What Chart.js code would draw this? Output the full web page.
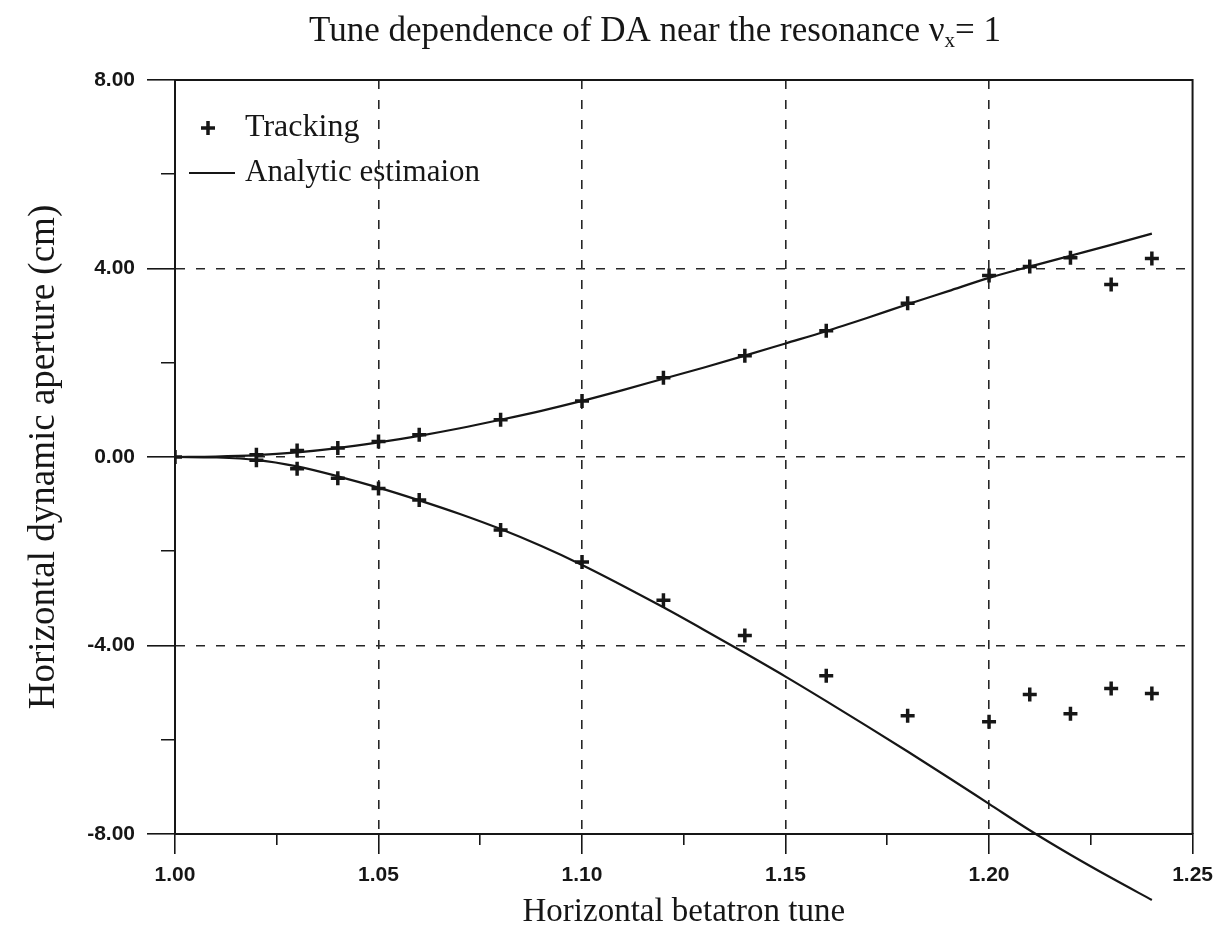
<!DOCTYPE html>
<html>
<head>
<meta charset="utf-8">
<title>Tune dependence of DA near the resonance</title>
<script src="https://cdn.jsdelivr.net/npm/chart.js@4.4.1/dist/chart.umd.min.js"></script>
<style>
  html, body { margin: 0; padding: 0; background: #ffffff; }
  #wrap { width: 1222px; height: 937px; }
</style>
</head>
<body>
<div id="wrap"><canvas id="daChart" width="1222" height="937"></canvas></div>
<script>
// ---- values ----
const trackTune  = [1.00, 1.02, 1.03, 1.04, 1.05, 1.06, 1.08, 1.10, 1.12, 1.14, 1.16, 1.18, 1.20, 1.21, 1.22, 1.23, 1.24];
const trackUpper = [0.00, 0.05, 0.14, 0.19, 0.33, 0.47, 0.79, 1.19, 1.68, 2.15, 2.68, 3.26, 3.85, 4.04, 4.23, 3.66, 4.21];
const trackLower = [0.00, -0.07, -0.25, -0.45, -0.67, -0.91, -1.55, -2.23, -3.04, -3.79, -4.64, -5.49, -5.62, -5.04, -5.45, -4.91, -5.02];

const analyticTune  = [1.00, 1.01, 1.02, 1.03, 1.04, 1.05, 1.06, 1.07, 1.08, 1.09, 1.10, 1.11, 1.12,
                       1.13, 1.14, 1.15, 1.16, 1.17, 1.18, 1.19, 1.20, 1.21, 1.22, 1.23, 1.24];
const analyticUpper = [0.00, 0.01, 0.04, 0.10, 0.19, 0.31, 0.45, 0.61, 0.79, 0.98, 1.19, 1.42, 1.66,
                       1.90, 2.15, 2.41, 2.67, 2.95, 3.24, 3.52, 3.80, 4.04, 4.27, 4.50, 4.74];
const analyticLower = [0.00, -0.01, -0.06, -0.20, -0.41, -0.65, -0.92, -1.21, -1.53, -1.89, -2.29, -2.73, -3.19,
                       -3.67, -4.16, -4.66, -5.18, -5.71, -6.25, -6.80, -7.36, -7.92, -8.44, -8.93, -9.40];

const xTickLabels = ['1.00', '1.05', '1.10', '1.15', '1.20', '1.25'];
const yTickLabels = ['-8.00', '-4.00', '0.00', '4.00', '8.00'];

const INK = '#161616';
const SERIF = '"Liberation Serif", "Times New Roman", serif';
const SANS = '"Liberation Sans", Arial, sans-serif';

function pairs(xs, ys) {
    return xs.map((x, i) => ({ x: x, y: ys[i] }));
}

// inner major values get a dashed grid line, the frame edges do not
function isMajorX(v) {
    const s = v.toFixed(2);
    return xTickLabels.includes(s) && Math.abs(v - parseFloat(s)) < 1e-6;
}
function isInnerX(v) {
    const s = v.toFixed(2);
    return isMajorX(v) && s !== '1.00' && s !== '1.25';
}
function isInnerY(v) {
    return v === -4 || v === 0 || v === 4;
}

/**
 * Frame, title and legend, drawn on top of the chart
 */
const decorPlugin = {
    id: 'decor',
    afterDraw(chart) {
        const ctx = chart.ctx;
        const a = chart.chartArea;
        ctx.save();

        // top and right side of the box
        ctx.strokeStyle = INK;
        ctx.lineWidth = 2;
        ctx.beginPath();
        ctx.moveTo(a.left, a.top);
        ctx.lineTo(a.right, a.top);
        ctx.lineTo(a.right, a.bottom);
        ctx.stroke();

        // title with the subscript x
        ctx.fillStyle = INK;
        ctx.textBaseline = 'alphabetic';
        const main = 'Tune dependence of DA near the resonance \u03BD';
        const tail = '= 1';
        ctx.font = '35px ' + SERIF;
        const wMain = ctx.measureText(main).width;
        const wTail = ctx.measureText(tail).width;
        ctx.font = '21px ' + SERIF;
        const wSub = ctx.measureText('x').width;
        let tx = 655 - (wMain + wSub + wTail) / 2;
        const ty = 41;
        ctx.font = '35px ' + SERIF;
        ctx.fillText(main, tx, ty);
        tx += wMain;
        ctx.font = '21px ' + SERIF;
        ctx.fillText('x', tx, ty + 6);
        tx += wSub;
        ctx.font = '35px ' + SERIF;
        ctx.fillText(tail, tx, ty);

        // legend inside the plot, top left
        const lx = a.left + 33;
        const textX = a.left + 70;
        const y1 = a.top + 48;
        const y2 = a.top + 93;
        ctx.lineWidth = 3.5;
        ctx.beginPath();
        ctx.moveTo(lx - 7, y1); ctx.lineTo(lx + 7, y1);
        ctx.moveTo(lx, y1 - 7); ctx.lineTo(lx, y1 + 7);
        ctx.stroke();
        ctx.lineWidth = 2;
        ctx.beginPath();
        ctx.moveTo(a.left + 14, y2); ctx.lineTo(a.left + 60, y2);
        ctx.stroke();
        ctx.font = '32px ' + SERIF;
        ctx.textBaseline = 'middle';
        ctx.fillText('Tracking', textX, y1);
        ctx.font = '31px ' + SERIF;
        ctx.fillText('Analytic estimaion', textX, y2);

        ctx.restore();
    }
};

const ctx = document.getElementById('daChart');

new Chart(ctx, {
    type: 'scatter',
    data: {
        datasets: [
            {
                label: 'Tracking',
                data: pairs(trackTune, trackUpper).concat(pairs(trackTune.slice(1), trackLower.slice(1))),
                showLine: false,
                pointStyle: 'cross',
                pointRadius: 7,
                pointBorderWidth: 3.5,
                borderColor: INK,
                backgroundColor: INK,
            },
            {
                label: 'Analytic estimaion',
                data: pairs(analyticTune, analyticUpper),
                showLine: true,
                borderColor: INK,
                borderWidth: 2.2,
                pointRadius: 0,
                cubicInterpolationMode: 'monotone',
            },
            {
                label: 'Analytic estimaion (lower)',
                data: pairs(analyticTune, analyticLower),
                showLine: true,
                borderColor: INK,
                borderWidth: 2.2,
                pointRadius: 0,
                cubicInterpolationMode: 'monotone',
                clip: false,
            }
        ]
    },
    options: {
        responsive: false,
        animation: false,
        layout: { padding: { top: 80, right: 27, bottom: 0, left: 0 } },
        plugins: {
            legend: { display: false },
            title: { display: false },
            tooltip: { enabled: false },
        },
        scales: {
            x: {
                type: 'linear',
                min: 1.0,
                max: 1.25,
                afterFit: (scale) => { scale.height = 103; },
                ticks: {
                    stepSize: 0.025,
                    autoSkip: false,
                    maxRotation: 0,
                    padding: 9,
                    color: INK,
                    font: { family: SANS, size: 21, weight: 'bold' },
                    callback: (v) => isMajorX(v) ? v.toFixed(2) : '',
                },
                grid: {
                    color: (c) => (c.tick && isInnerX(c.tick.value)) ? '#262626' : 'rgba(0,0,0,0)',
                    lineWidth: 1.6,
                    tickLength: 20,
                    tickColor: INK,
                    tickWidth: 1.6,
                    tickBorderDash: (c) => (c.tick && isMajorX(c.tick.value)) ? [] : [10, 100],
                },
                border: { display: true, color: INK, width: 2, dash: [9, 11] },
                title: {
                    display: true,
                    text: 'Horizontal betatron tune',
                    color: INK,
                    font: { family: SERIF, size: 33 },
                    padding: { top: 0, bottom: 5 },
                },
            },
            y: {
                type: 'linear',
                min: -8,
                max: 8,
                afterFit: (scale) => { scale.width = 175; },
                ticks: {
                    stepSize: 2,
                    padding: 12,
                    color: INK,
                    font: { family: SANS, size: 21, weight: 'bold' },
                    callback: (v) => yTickLabels.includes(v.toFixed(2)) ? v.toFixed(2) : '',
                },
                grid: {
                    color: (c) => (c.tick && isInnerY(c.tick.value)) ? '#262626' : 'rgba(0,0,0,0)',
                    lineWidth: 1.6,
                    tickLength: 28,
                    tickColor: INK,
                    tickWidth: 1.6,
                    tickBorderDash: (c) => (c.tick && c.tick.value % 4 === 0) ? [] : [0, 14, 14, 100],
                },
                border: { display: true, color: INK, width: 2, dash: [9, 11] },
                title: {
                    display: true,
                    text: 'Horizontal dynamic aperture (cm)',
                    color: INK,
                    font: { family: SERIF, size: 37 },
                    padding: { top: 22, bottom: 0 },
                },
            }
        }
    },
    plugins: [decorPlugin]
});
</script>
</body>
</html>
